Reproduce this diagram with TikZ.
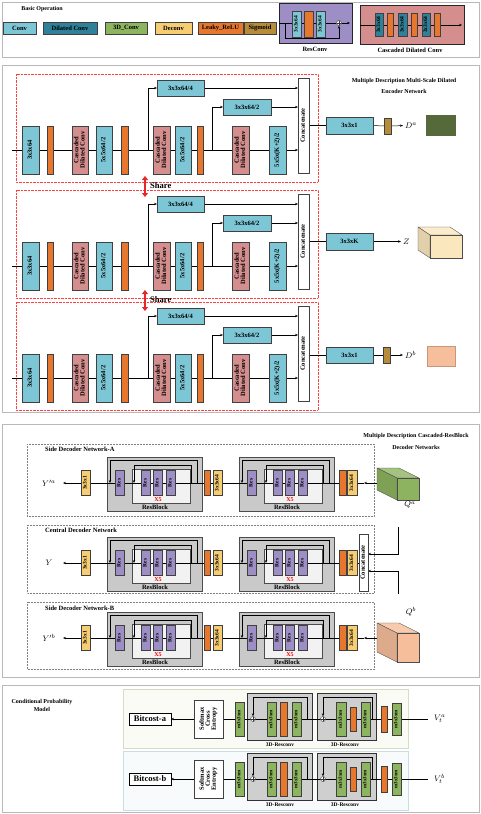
\documentclass[tikz,border=0pt]{standalone}
\usepackage{fontspec}
\setmainfont{Liberation Serif}
\usepackage{graphicx}
\usetikzlibrary{arrows.meta}
\pgfdeclarelayer{bg}
\pgfdeclarelayer{mid}
\pgfsetlayers{bg,mid,main}
\definecolor{cconv}{HTML}{7DC6D5}
\definecolor{cdil}{HTML}{2E8198}
\definecolor{cthree}{HTML}{8DB45F}
\definecolor{cdec}{HTML}{F6CD72}
\definecolor{cleaky}{HTML}{E8772E}
\definecolor{csig}{HTML}{B68C3B}
\definecolor{ccdc}{HTML}{D48E8E}
\definecolor{cres}{HTML}{9D8EC6}
\definecolor{cgreen}{HTML}{8DB360}
\definecolor{cdark}{HTML}{56693A}
\definecolor{cpeach}{HTML}{F6BE9B}
\definecolor{cz}{HTML}{FBE7BE}
\definecolor{cpanA}{HTML}{FBFBF6}
\definecolor{cpanAb}{HTML}{D6DCC4}
\definecolor{cpanB}{HTML}{F8FBFC}
\definecolor{cpanBb}{HTML}{C9DCE6}
\definecolor{cshare}{HTML}{E5262B}
\newcommand{\vtxt}[1]{\rotatebox{90}{\begin{tabular}{@{}c@{}}#1\end{tabular}}}
\renewcommand{\arraystretch}{0.82}
\newcommand{\mybox}[7]{\node[#2, minimum width={(#5)-(#3)}, minimum height={(#6)-(#4)}] (#1) at ({((#3)+(#5))/2},{((#4)+(#6))/2}) {#7};}
\tikzset{
 ln/.style={black, line width=0.5pt},
 bx/.style={draw=black!75, line width=0.4pt, inner sep=0pt, outer sep=0pt, font=\bfseries\fontsize{6.5}{7}\selectfont},
 fsmall/.style={font=\bfseries\fontsize{5.5}{6}\selectfont},
 ftiny/.style={font=\bfseries\fontsize{5}{5.5}\selectfont},
 conv/.style={bx, fill=cconv},
 dil/.style={bx, fill=cdil},
 td/.style={bx, fill=cthree},
 dec/.style={bx, fill=cdec},
 leaky/.style={bx, fill=cleaky},
 sig/.style={bx, fill=csig},
 cdc/.style={bx, fill=ccdc},
 res/.style={bx, fill=cres, fsmall},
 cat/.style={bx, fill=white},
 wbox/.style={bx, fill=white, draw=black, line width=0.7pt},
 rbgray/.style={bx, fill=gray!42, draw=black!70, line width=0.8pt},
 rbwhite/.style={bx, fill=gray!10, draw=black!70, line width=0.8pt},
 rbthree/.style={bx, fill=gray!38, draw=black!80, line width=0.8pt},
 panel/.style={draw=gray!55, line width=1pt},
 reddot/.style={draw=red!75, densely dotted, line width=0.4pt},
 graydot/.style={draw=gray, densely dotted, line width=0.5pt},
 ttl/.style={font=\bfseries\fontsize{6}{7}\selectfont, inner sep=0pt},
 lbl/.style={font=\bfseries\fontsize{6.5}{7}\selectfont, inner sep=0pt},
 lblthree/.style={font=\bfseries\fontsize{5.5}{6}\selectfont, inner sep=0pt},
 mlbl/.style={font=\fontsize{8}{9}\selectfont, inner sep=0pt},
 sharel/.style={font=\bfseries\fontsize{8.5}{9}\selectfont, inner sep=0pt},
 share/.style={cshare, line width=2pt, {Triangle[length=4pt,width=6pt]}-{Triangle[length=4pt,width=6pt]}},
 oplus/.style={circle, draw=black!80, fill=white, line width=0.4pt, minimum size=5pt, inner sep=0pt,
   path picture={\draw[line width=0.3pt] (path picture bounding box.north) -- (path picture bounding box.south) (path picture bounding box.west) -- (path picture bounding box.east);}},
}
% encoder row
\newcommand{\EncRow}[2]{%
\begin{scope}[shift={(0,#2)}]
\begin{pgfonlayer}{bg}
\draw[reddot] (16,-76) rectangle (318,32);
\end{pgfonlayer}
\mybox{#1a}{conv}{22}{-24}{39}{24}{\vtxt{3x3x64}}
\mybox{#1b}{leaky}{47}{-24}{53}{24}{}
\mybox{#1c}{cdc}{72}{-24}{88}{24}{\vtxt{Cascaded\\Dilated Conv}}
\mybox{#1d}{conv}{96}{-24}{112}{24}{\vtxt{5x5x64/2}}
\mybox{#1e}{leaky}{121}{-24}{128}{24}{}
\mybox{#1t}{conv}{157}{-70}{204}{-54}{3x3x64/4}
\mybox{#1f}{cdc}{153}{-24}{170}{24}{\vtxt{Cascaded\\Dilated Conv}}
\mybox{#1g}{conv}{175}{-24}{191}{24}{\vtxt{5x5x64/2}}
\mybox{#1h}{leaky}{197}{-24}{203}{24}{}
\mybox{#1u}{conv}{223}{-51}{271}{-35}{3x3x64/2}
\mybox{#1i}{cdc}{232}{-24}{249}{24}{\vtxt{Cascaded\\Dilated Conv}}
\mybox{#1j}{conv}{269}{-24}{286}{24}{\vtxt{5x5x(K+2)/2}}
\mybox{#1k}{cat}{298}{-72}{309}{23}{\vtxt{Concatenate}}
\coordinate (#1in) at (12,0);
\coordinate (#1p) at (148,0);
\coordinate (#1q) at (212,0);
\begin{pgfonlayer}{mid}
\draw[ln] (#1in) -- (#1j.center);
\draw[ln,->] (#1j.east) -- (#1j.east -| #1k.west);
\draw[ln,->] (#1p) |- (#1t.west);
\draw[ln,->] (#1q) |- (#1u.west);
\draw[ln,->] (#1t.east) -- (#1t.east -| #1k.west);
\draw[ln,->] (#1u.east) -- (#1u.east -| #1k.west);
\end{pgfonlayer}
\end{scope}}
% resblock
\newcommand{\ResBlk}[3]{%
\begin{scope}[shift={(#2,#3)}]
\begin{pgfonlayer}{bg}
\mybox{#1g}{rbgray}{0}{-26}{95}{28}{}
\mybox{#1w}{rbwhite}{25}{-14}{83}{20}{}
\end{pgfonlayer}
\mybox{#1r1}{res}{8}{-12.5}{17}{12.5}{\vtxt{Res}}
\mybox{#1r2}{res}{34}{-12.5}{43}{12.5}{\vtxt{Res}}
\mybox{#1r3}{res}{46}{-12.5}{55}{12.5}{\vtxt{Res}}
\mybox{#1r4}{res}{59}{-12.5}{68}{12.5}{\vtxt{Res}}
\node[font=\bfseries\fontsize{6}{6}\selectfont, text=red, inner sep=0pt] (#1x) at (51,16.5) {X5};
\node[lbl] (#1l) at (48,24.5) {ResBlock};
\coordinate (#1oa) at (90,0);
\coordinate (#1ob) at (3,0);
\coordinate (#1ia) at (84,0);
\coordinate (#1ib) at (27,0);
\begin{pgfonlayer}{mid}
\draw[ln,->] (#1oa) -- ++(0,-23) -| (#1ob);
\draw[ln,->] (#1ia) -- ++(0,-18) -| (#1ib);
\end{pgfonlayer}
\end{scope}}
% decoder row
\newcommand{\DecRow}[3]{%
\begin{scope}[shift={(0,#2)}]
\mybox{#1y}{dec,fsmall}{81}{-12.5}{90}{12.5}{\vtxt{3x3x1}}
\mybox{#1la}{leaky}{204}{-12.5}{210}{12.5}{}
\mybox{#1da}{dec,fsmall}{213}{-12.5}{222}{12.5}{\vtxt{3x3x64}}
\mybox{#1lb}{leaky}{339}{-12.5}{346}{12.5}{}
\mybox{#1db}{dec,fsmall}{347}{-12.5}{357}{12.5}{\vtxt{3x3x64}}
\coordinate (#1out) at (63,0);
\node[mlbl] (#1lab) at (49,0) {#3};
\end{scope}
\ResBlk{#1A}{107}{#2}
\ResBlk{#1B}{239}{#2}}
% cube
\newcommand{\mycube}[8]{%
\fill[#8!80!white, draw=black!70, line width=0.4pt, line join=round] (#2,#3) -- ({#4-#6},#3) -- (#4,{#3+#7}) -- ({#2+#6},{#3+#7}) -- cycle;
\fill[#8!90!black, draw=black!70, line width=0.4pt, line join=round] (#2,#3) -- ({#2+#6},{#3+#7}) -- ({#2+#6},#5) -- (#2,{#5-#7}) -- cycle;
\mybox{#1}{bx, fill=#8, draw=black!70}{#2+#6}{#3+#7}{#4}{#5}{}}
% conditional row
\newcommand{\CondRow}[3]{%
\begin{scope}[shift={(0,#2)}]
\begin{pgfonlayer}{bg}
\mybox{#1R1}{rbthree}{247}{-26}{312}{21}{}
\mybox{#1R2}{rbthree}{317}{-26}{376}{21}{}
\end{pgfonlayer}
\mybox{#1bit}{wbox,font=\bfseries\fontsize{8.5}{9}\selectfont}{129}{-6}{171}{6}{Bitcost-#3}
\mybox{#1sm}{cat}{194}{-19}{223}{19}{\vtxt{Softmax\\Cross\\Entropy}}
\mybox{#1g0}{td,ftiny}{235}{-17}{244}{17}{\vtxt{m3x3xm}}
\node[oplus] (#1c1) at (253,0) {};
\mybox{#1g1}{td,ftiny}{267}{-17}{276}{17}{\vtxt{m3x3xm}}
\mybox{#1o1}{leaky}{280}{-17}{287}{17}{}
\mybox{#1g2}{td,ftiny}{292}{-17}{301}{17}{\vtxt{m3x3xm}}
\node[oplus] (#1c2) at (323,0) {};
\mybox{#1g3}{td,ftiny}{336}{-17}{346}{17}{\vtxt{m3x3xm}}
\mybox{#1o2}{leaky}{350}{-12}{356}{12}{}
\mybox{#1g4}{td,ftiny}{361}{-17}{370}{17}{\vtxt{m3x3xm}}
\mybox{#1o3}{leaky}{381}{-13}{387}{13}{}
\mybox{#1g5}{td,ftiny}{392}{-16}{401}{16}{\vtxt{m3x3xm}}
\node[lblthree] (#1La) at (280,26) {3D-Resconv};
\node[lblthree] (#1Lb) at (345,26) {3D-Resconv};
\coordinate (#1in) at (428,0);
\coordinate (#1sa) at (307,0);
\coordinate (#1sb) at (372,0);
\node[mlbl, anchor=west] (#1V) at (434,0) {$V^{#3}_{t}$};
\begin{pgfonlayer}{mid}
\draw[ln] (#1in) -- (#1in -| #1sm.east);
\draw[ln,->] (#1sm.west) -- (#1bit.east);
\draw[ln,->] (#1sa) -- ++(0,-22) -| (#1c1.north);
\draw[ln,->] (#1sb) -- ++(0,-22) -| (#1c2.north);
\end{pgfonlayer}
\end{scope}}
\begin{document}
\begin{tikzpicture}[x=1pt,y=-1pt,>={Stealth[length=3pt,width=2.4pt]}]
\useasboundingbox (0,0) rectangle (481,814);
\begin{pgfonlayer}{bg}
\fill[white] (0,0) rectangle (481,814);
\draw[panel] (2,2) rectangle (479,57);
\draw[panel] (2,65) rectangle (479,412);
\draw[panel] (2,424) rectangle (479,677);
\draw[panel] (2,685) rectangle (479,812);
\end{pgfonlayer}
% ---------- legend
\node[ttl] (bo) at (42,9) {Basic Operation};
\mybox{lga}{conv}{3}{22}{36}{34}{Conv}
\mybox{lgb}{dil}{43}{22}{97}{34}{Dilated Conv}
\mybox{lgc}{td}{105}{22}{147}{34}{3D\_Conv}
\mybox{lgd}{dec}{155}{22}{192}{34}{Deconv}
\mybox{lge}{leaky}{198}{22}{243}{34}{Leaky\_ReLU}
\mybox{lgf}{sig}{244}{22}{276}{34}{Sigmoid}
\begin{pgfonlayer}{bg}
\mybox{rcb}{bx, fill=cres, draw=black!85, line width=0.8pt}{279}{3}{352}{43}{}
\mybox{cdb}{bx, fill=ccdc, draw=black!85, line width=0.8pt}{360}{5}{464}{44}{}
\end{pgfonlayer}
\mybox{rca}{conv,fsmall}{292}{11}{301}{37}{\vtxt{3x3x64}}
\mybox{rcm}{leaky}{304}{11}{313}{37}{}
\mybox{rcc}{conv,fsmall}{316}{11}{325}{37}{\vtxt{3x3x64}}
\node[oplus] (rcp) at (339,23) {};
\coordinate (rcin) at (279,23);
\coordinate (rcout) at (350,23);
\coordinate (rcs) at (285,23);
\node[lbl] (rcl) at (315,49) {ResConv};
\mybox{cda}{dil,fsmall}{375}{13}{383}{36}{\vtxt{3x3x64}}
\mybox{cdb1}{leaky}{387}{13}{393}{36}{}
\mybox{cdc1}{dil,fsmall}{398}{13}{407}{36}{\vtxt{3x3x64}}
\mybox{cdd}{leaky}{411}{13}{417}{36}{}
\mybox{cde}{dil,fsmall}{422}{13}{430}{36}{\vtxt{3x3x64}}
\mybox{cdf}{leaky}{434}{13}{440}{36}{}
\coordinate (cdin) at (360,25);
\coordinate (cdout) at (462,25);
\node[lbl] (cdl) at (410,50) {Cascaded Dilated Conv};
\begin{pgfonlayer}{mid}
\draw[ln] (rcin) -- (rcp.west);
\draw[ln,->] (rcp.east) -- (rcout);
\draw[ln,->] (rcs) -- ++(0,15) -| (rcp.south);
\draw[ln,->] (cdin) -- (cdout);
\end{pgfonlayer}
% ---------- encoder
\node[ttl] (enta) at (404,81) {Multiple Description Multi-Scale Dilated};
\node[ttl] (entb) at (404,91) {Encoder Network};
\EncRow{A}{150}
\EncRow{B}{266}
\EncRow{C}{378}
% row A output
\mybox{Ao}{conv}{326}{117}{373}{134}{3x3x1}
\mybox{As}{sig}{384}{118}{391}{134}{}
\node[mlbl, anchor=west] (Ad) at (405,125.5) {$D^a$};
\mybox{Asq}{bx, fill=cdark, draw=cdark}{426}{115}{455}{135}{}
% row B output
\mybox{Bo}{conv}{326}{233}{373}{250}{3x3xK}
\node[mlbl, anchor=west] (Bz) at (403,241.5) {$Z$};
\mycube{Bq}{418}{227}{462}{258}{12}{8}{cz}
% row C output
\mybox{Co}{conv}{326}{347}{373}{363}{3x3x1}
\mybox{Cs}{sig}{383}{347}{390}{363}{}
\node[mlbl, anchor=west] (Cd) at (405,355) {$D^b$};
\mybox{Csq}{bx, fill=cpeach, draw=cpeach!80!black}{427}{346}{455}{366}{}
\begin{pgfonlayer}{mid}
\draw[ln] (Ak.east |- Ao.west) -- (Ao.west);
\draw[ln] (Ao.east) -- (As.west);
\draw[ln,->,shorten >=2pt] (As.east) -- (Ad.west);
\draw[ln] (Bk.east |- Bo.west) -- (Bo.west);
\draw[ln,->,shorten >=2pt] (Bo.east) -- (Bz.west);
\draw[ln] (Ck.east |- Co.west) -- (Co.west);
\draw[ln] (Co.east) -- (Cs.west);
\draw[ln,->,shorten >=2pt] (Cs.east) -- (Cd.west);
\end{pgfonlayer}
% share arrows
\coordinate (sha) at (145,176);
\coordinate (shb) at (145,197);
\coordinate (shc) at (145,290);
\coordinate (shd) at (145,311);
\draw[share] (sha) -- (shb);
\draw[share] (shc) -- (shd);
\node[sharel, anchor=west] (shl1) at (150,186) {Share};
\node[sharel, anchor=west] (shl2) at (150,299.5) {Share};
% ---------- decoder
\node[ttl] (deta) at (416,436) {Multiple Description Cascaded-ResBlock};
\node[ttl] (detb) at (416,447) {Decoder Networks};
\begin{pgfonlayer}{bg}
\draw[graydot] (27,444) rectangle (374,516);
\draw[graydot] (27,525) rectangle (374,593);
\draw[graydot] (27,602) rectangle (374,669);
\end{pgfonlayer}
\node[lbl, anchor=west] (dla) at (45,449) {Side Decoder Network-A};
\node[lbl, anchor=west] (dlc) at (45,530) {Central Decoder Network};
\node[lbl, anchor=west] (dlb) at (45,608) {Side Decoder Network-B};
\DecRow{a}{483}{$Y^{\prime a}$}
\DecRow{c}{563}{$Y$}
\DecRow{b}{638}{$Y^{\prime b}$}
\mycube{aq}{377}{468}{419}{500}{20}{10}{cgreen}
\node[mlbl] (aql) at (410,505) {$Q^a$};
\mycube{bq}{377}{623}{419}{662}{20}{10}{cpeach}
\node[mlbl] (bql) at (411,612) {$Q^b$};
\mybox{ccat}{cat}{359}{534}{368}{591}{\vtxt{Concatenate}}
\coordinate (ain) at (377,483);
\coordinate (aar) at (364,483);
\coordinate (bin) at (377,638);
\coordinate (bar) at (364,638);
\coordinate (cta) at (398,527);
\coordinate (ctb) at (398,594);
\coordinate (cya) at (0,554);
\coordinate (cyb) at (0,571);
\begin{pgfonlayer}{mid}
\draw[ln,->] (ain) -- (aar);
\draw[ln] (aar) -- (ay.center);
\draw[ln,->] (ay.west) -- (aout);
\draw[ln,->] (bin) -- (bar);
\draw[ln] (bar) -- (by.center);
\draw[ln,->] (by.west) -- (bout);
\draw[ln] (cy.center -| ccat.west) -- (cy.center);
\draw[ln,->] (cy.west) -- (cout);
\draw[ln,->] (cta) |- (ccat.east |- cya);
\draw[ln,->] (ctb) |- (ccat.east |- cyb);
\end{pgfonlayer}
% ---------- conditional probability model
\node[ttl] (cpa) at (42,702) {Conditional Probability};
\node[ttl] (cpb) at (42,709.5) {Model};
\begin{pgfonlayer}{bg}
\draw[fill=cpanA, draw=cpanAb, line width=0.8pt] (123,689) rectangle (408,748);
\draw[fill=cpanB, draw=cpanBb, line width=0.8pt] (123,751) rectangle (408,810);
\end{pgfonlayer}
\CondRow{u}{719}{a}
\CondRow{l}{779}{b}
\end{tikzpicture}
\end{document}
